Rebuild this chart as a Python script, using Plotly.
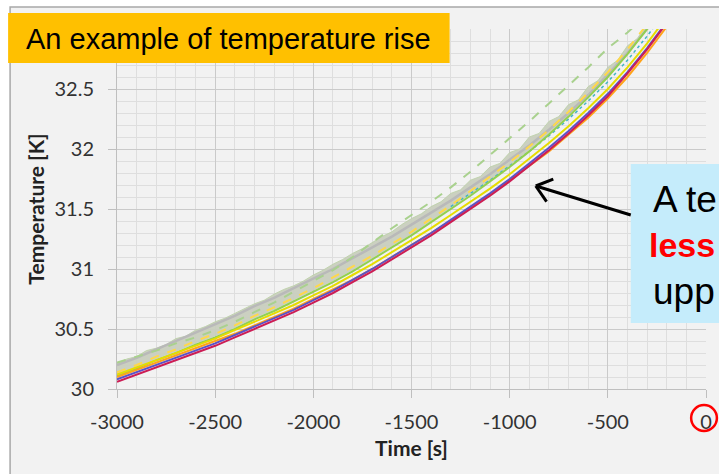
import numpy as np
import plotly.graph_objects as go

# ---------------- data ----------------
time_s = list(range(-3000, -199, 100))        # 29 samples
time_fine_s = list(range(-3000, -199, 50))    # 57 samples (noisy band edge)

red = [30.06, 30.12, 30.18, 30.24, 30.30, 30.36, 30.43, 30.50, 30.57, 30.64,
       30.72, 30.80, 30.89, 30.98, 31.08, 31.18, 31.28, 31.39, 31.50, 31.61,
       31.73, 31.86, 31.99, 32.13, 32.28, 32.44, 32.63, 32.83, 33.05]
blue = [30.08, 30.14, 30.20, 30.26, 30.32, 30.38, 30.45, 30.52, 30.59, 30.66,
        30.74, 30.82, 30.91, 31.00, 31.10, 31.20, 31.30, 31.41, 31.52, 31.63,
        31.75, 31.88, 32.01, 32.15, 32.30, 32.46, 32.64, 32.84, 33.06]
orange = [30.10, 30.16, 30.22, 30.28, 30.34, 30.40, 30.46, 30.53, 30.60, 30.67,
          30.75, 30.83, 30.91, 31.00, 31.10, 31.20, 31.30, 31.40, 31.51, 31.62,
          31.74, 31.86, 31.98, 32.12, 32.26, 32.42, 32.60, 32.80, 33.02]
yellow = [30.12, 30.18, 30.24, 30.30, 30.36, 30.42, 30.49, 30.56, 30.63, 30.70,
          30.78, 30.86, 30.95, 31.04, 31.14, 31.24, 31.34, 31.45, 31.56, 31.67,
          31.79, 31.92, 32.05, 32.19, 32.34, 32.50, 32.68, 32.88, 33.10]
green = [30.11, 30.17, 30.24, 30.30, 30.37, 30.43, 30.50, 30.58, 30.65, 30.73,
         30.81, 30.89, 30.98, 31.08, 31.18, 31.28, 31.39, 31.50, 31.61, 31.73,
         31.85, 31.98, 32.12, 32.27, 32.43, 32.60, 32.79, 33.00, 33.22]
yellow_dash = [30.14, 30.20, 30.27, 30.33, 30.40, 30.46, 30.53, 30.61, 30.68, 30.76,
               30.84, 30.93, 31.02, 31.11, 31.21, 31.31, 31.42, 31.53, 31.65, 31.77,
               31.89, 32.02, 32.16, 32.31, 32.47, 32.64, 32.83, 33.04, 33.26]
# teal dotted series is only visible above the band from about -1300 s on
cyan_dot = [None, None, None, None, None, None, None, None, None, None,
            None, None, None, None, None, None, None, 31.52, 31.63, 31.74,
            31.86, 31.98, 32.11, 32.25, 32.40, 32.56, 32.74, 32.94, 33.16]
gray = [30.20, 30.26, 30.33, 30.40, 30.47, 30.54, 30.61, 30.69, 30.76, 30.84,
        30.92, 31.00, 31.09, 31.18, 31.27, 31.37, 31.47, 31.57, 31.68, 31.79,
        31.91, 32.03, 32.16, 32.30, 32.45, 32.62, 32.80, 33.00, 33.22]
band_low = [30.12, 30.18, 30.25, 30.31, 30.38, 30.44, 30.51, 30.59, 30.66, 30.74,
            30.82, 30.90, 30.99, 31.09, 31.19, 31.29, 31.40, 31.51, 31.62, 31.74,
            31.86, 31.99, 32.13, 32.28, 32.44, 32.61, 32.80, 33.01, 33.23]
band_high = [30.21, 30.25, 30.27, 30.32, 30.34, 30.37, 30.42, 30.44, 30.49, 30.52,
             30.56, 30.59, 30.63, 30.67, 30.71, 30.74, 30.79, 30.83, 30.86, 30.90,
             30.95, 30.99, 31.04, 31.08, 31.13, 31.17, 31.22, 31.27, 31.31, 31.37,
             31.42, 31.46, 31.52, 31.56, 31.63, 31.66, 31.74, 31.77, 31.85, 31.88,
             31.97, 32.00, 32.10, 32.13, 32.23, 32.27, 32.37, 32.41, 32.52, 32.57,
             32.68, 32.74, 32.86, 32.92, 33.04, 33.12, 33.26]
green_dash = [30.22, 30.27, 30.32, 30.38, 30.43, 30.49, 30.56, 30.64, 30.72, 30.81,
              30.90, 30.99, 31.10, 31.22, 31.34, 31.45, 31.56, 31.68, 31.81, 31.95,
              32.09, 32.23, 32.38, 32.53, 32.68, 32.84, 32.97, 33.12, 33.26]

x_tick_vals = [-3000, -2500, -2000, -1500, -1000, -500, 0]
x_tick_text = ["-3000", "-2500", "-2000", "-1500", "-1000", "-500", "0"]
y_tick_vals = [30, 30.5, 31, 31.5, 32, 32.5]
y_tick_text = ["30", "30.5", "31", "31.5", "32", "32.5"]

# ---------------- geometry ----------------
W, H = 719, 474
ML, MR, MT, MB = 117, 7, 29, 85
PW = W - ML - MR
PH = H - MT - MB


def px(xp):
    return (xp - ML) / PW


def py(yp):
    return (H - MB - yp) / PH


fig = go.Figure()

# noisy grey-green band
fig.add_trace(go.Scatter(x=time_s, y=band_low, mode="lines",
                         line=dict(color="rgba(0,0,0,0)", width=0),
                         hoverinfo="skip"))
fig.add_trace(go.Scatter(x=time_fine_s, y=band_high, mode="lines",
                         line=dict(color="rgba(190,210,170,0.9)", width=1),
                         fill="tonexty", fillcolor="rgba(200,206,190,0.95)",
                         hoverinfo="skip"))

fig.add_trace(go.Scatter(x=time_s, y=gray, mode="lines",
                         line=dict(color="#b9b9b9", width=2.5)))
fig.add_trace(go.Scatter(x=time_s, y=cyan_dot, mode="lines",
                         line=dict(color="#44b4c4", width=1.5, dash="dot")))
fig.add_trace(go.Scatter(x=time_s, y=yellow_dash, mode="lines",
                         line=dict(color="#ffd84a", width=2, dash="dash")))
fig.add_trace(go.Scatter(x=time_s, y=green, mode="lines",
                         line=dict(color="#92d050", width=2)))
fig.add_trace(go.Scatter(x=time_s, y=yellow, mode="lines",
                         line=dict(color="#e6dc00", width=2)))
fig.add_trace(go.Scatter(x=time_s, y=orange, mode="lines",
                         line=dict(color="#ffa31a", width=2)))
fig.add_trace(go.Scatter(x=time_s, y=blue, mode="lines",
                         line=dict(color="#5a52c8", width=2)))
fig.add_trace(go.Scatter(x=time_s, y=red, mode="lines",
                         line=dict(color="#cc1d55", width=2)))
fig.add_trace(go.Scatter(x=time_s, y=green_dash, mode="lines",
                         line=dict(color="#a9d18e", width=2, dash="dash")))

grid_major = "#cacaca"
grid_minor = "#dedede"
axis_font = dict(family="Lato", size=20, color="#333333")
title_font = dict(family="Lato", size=21, color="#222222")

fig.update_xaxes(range=[-3000, 0], tickmode="array", tickvals=x_tick_vals,
                 ticktext=x_tick_text, showgrid=True, gridcolor=grid_major,
                 gridwidth=1, showline=True, linecolor="#bfbfbf", linewidth=1,
                 ticks="outside", ticklen=8, tickcolor="#bfbfbf",
                 tickfont=axis_font, zeroline=False, ticklabelstandoff=7,
                 minor=dict(tickmode="linear", tick0=-3000, dtick=100,
                            showgrid=True, gridcolor=grid_minor, gridwidth=1),
                 title=dict(text="<b>Time [s]</b>", font=title_font, standoff=9))
fig.update_yaxes(range=[30, 33], tickmode="array", tickvals=y_tick_vals,
                 ticktext=y_tick_text, showgrid=True, gridcolor=grid_major,
                 gridwidth=1, showline=True, linecolor="#bfbfbf", linewidth=1,
                 ticks="outside", ticklen=8, tickcolor="#bfbfbf",
                 tickfont=axis_font, zeroline=False, ticklabelstandoff=10,
                 minor=dict(tickmode="linear", tick0=30, dtick=0.1,
                            showgrid=True, gridcolor=grid_minor, gridwidth=1),
                 title=dict(text="<b>Temperature [K]</b>", font=title_font, standoff=4))

shapes = []
# outer slide frame
shapes.append(dict(type="rect", xref="paper", yref="paper",
                   x0=px(9), x1=px(780), y0=py(7), y1=py(540),
                   fillcolor="#f2f2f2", line=dict(color="#a8a8a8", width=1.5),
                   layer="below"))
# orange label box
shapes.append(dict(type="rect", xref="paper", yref="paper",
                   x0=px(7), x1=px(453), y0=py(13), y1=py(63),
                   fillcolor="#ffc000", line=dict(width=0), layer="above"))
# blue call-out box
shapes.append(dict(type="rect", xref="paper", yref="paper",
                   x0=px(636), x1=px(780), y0=py(164), y1=py(323),
                   fillcolor="#c5ecfb", line=dict(width=0), layer="above"))
# arrow
tip = np.array([540.0, 186.0])
tail = np.array([636.0, 215.0])
d = (tail - tip) / np.linalg.norm(tail - tip)
shapes.append(dict(type="line", xref="paper", yref="paper",
                   x0=px(tail[0]), y0=py(tail[1]), x1=px(tip[0] + 1), y1=py(tip[1] + 0.3),
                   line=dict(color="black", width=3), layer="above"))
for ang in (np.radians(38), np.radians(-38)):
    rot = np.array([d[0] * np.cos(ang) - d[1] * np.sin(ang),
                    d[0] * np.sin(ang) + d[1] * np.cos(ang)])
    end = tip + 19 * rot
    shapes.append(dict(type="line", xref="paper", yref="paper",
                       x0=px(tip[0]), y0=py(tip[1]), x1=px(end[0]), y1=py(end[1]),
                       line=dict(color="black", width=3), layer="above"))
# red circle around the 0 label
shapes.append(dict(type="circle", xref="paper", yref="paper",
                   x0=px(697), x1=px(723), y0=py(405), y1=py(431),
                   line=dict(color="#ff0000", width=2.5), layer="above"))

annotations = [
    dict(text="An example of temperature rise", xref="paper", yref="paper",
         x=px(23), y=py(39), xanchor="left", yanchor="middle", showarrow=False,
         font=dict(family="Liberation Sans", size=29, color="black")),
    dict(text="A te", xref="paper", yref="paper",
         x=px(656), y=py(199), xanchor="left", yanchor="middle", showarrow=False,
         font=dict(family="Liberation Sans", size=37, color="black")),
    dict(text="<b>less</b>", xref="paper", yref="paper",
         x=px(652), y=py(245), xanchor="left", yanchor="middle", showarrow=False,
         font=dict(family="Liberation Sans", size=34, color="#ff0000")),
    dict(text="upp", xref="paper", yref="paper",
         x=px(656), y=py(291), xanchor="left", yanchor="middle", showarrow=False,
         font=dict(family="Liberation Sans", size=37, color="black")),
]

fig.update_layout(width=W, height=H, margin=dict(l=ML, r=MR, t=MT, b=MB),
                  paper_bgcolor="white", plot_bgcolor="#f2f2f2",
                  showlegend=False, shapes=shapes, annotations=annotations,
                  font=dict(family="Lato"))

fig.write_html("out.html")
